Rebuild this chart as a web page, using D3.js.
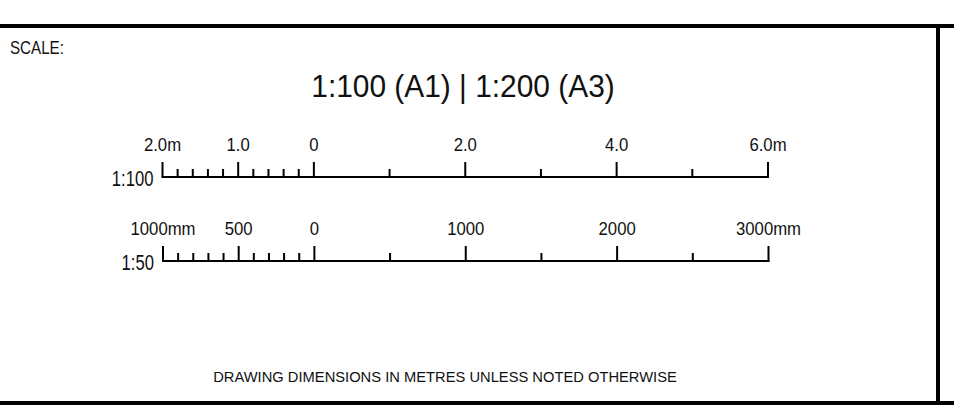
<!DOCTYPE html>
<html>
<head>
<meta charset="utf-8">
<script src="https://cdn.jsdelivr.net/npm/d3@7"></script>
<style>
  body { margin: 0; background: #fff; }
  svg text { font-family: "Liberation Sans", Arial, sans-serif; fill: #111; }
</style>
</head>
<body>
<div id="chart"></div>
<script>
var W = 954, H = 405;

var headerText = "SCALE:";
var titleText = "1:100 (A1) | 1:200 (A3)";
var footerText = "DRAWING DIMENSIONS IN METRES UNLESS NOTED OTHERWISE";

// bar 1 : metres at 1:100
var ratio100 = "1:100";
var majorM = [-2, -1, 0, 2, 4, 6];
var majorMLabels = ["2.0m", "1.0", "0", "2.0", "4.0", "6.0m"];
var minorM = [-1.8, -1.6, -1.4, -1.2, -0.8, -0.6, -0.4, -0.2, 1, 3, 5];

// bar 2 : millimetres at 1:50
var ratio50 = "1:50";
var majorMM = [-1000, -500, 0, 1000, 2000, 3000];
var majorMMLabels = ["1000mm", "500", "0", "1000", "2000", "3000mm"];
var minorMM = [-900, -800, -700, -600, -400, -300, -200, -100, 500, 1500, 2500];

var svg = d3.select("#chart").append("svg")
    .attr("width", W)
    .attr("height", H);

// narrow text: drawing fonts are condensed, so squeeze horizontally
function narrowText(g, x, y, size, sx, anchor, str) {
  return g.append("text")
      .attr("transform", "translate(" + x + "," + y + ") scale(" + sx + ",1)")
      .attr("font-size", size)
      .attr("text-anchor", anchor)
      .text(str);
}

// frame
svg.append("line").attr("x1", 0).attr("x2", W).attr("y1", 26).attr("y2", 26)
    .attr("stroke", "#000").attr("stroke-width", 4);
svg.append("line").attr("x1", 0).attr("x2", W).attr("y1", 403).attr("y2", 403)
    .attr("stroke", "#000").attr("stroke-width", 4);
svg.append("line").attr("x1", 938).attr("x2", 938).attr("y1", 26).attr("y2", 403)
    .attr("stroke", "#000").attr("stroke-width", 4);

narrowText(svg, 10, 53.5, 18.5, 0.82, "start", headerText);
narrowText(svg, 463, 96.5, 30.5, 0.98, "middle", titleText);
narrowText(svg, 445, 382, 15.5, 0.95, "middle", footerText);

function scaleBar(g, x, major, labels, minor, ratio) {
  var r = x.range();
  g.append("line")
      .attr("x1", r[0] - 1).attr("x2", r[1] + 1)
      .attr("y1", 0).attr("y2", 0)
      .attr("stroke", "#000").attr("stroke-width", 2);
  g.selectAll(".major").data(major).enter().append("line")
      .attr("class", "major")
      .attr("x1", function(d) { return x(d); })
      .attr("x2", function(d) { return x(d); })
      .attr("y1", -15).attr("y2", 0)
      .attr("stroke", "#000").attr("stroke-width", 2);
  g.selectAll(".minor").data(minor).enter().append("line")
      .attr("class", "minor")
      .attr("x1", function(d) { return x(d); })
      .attr("x2", function(d) { return x(d); })
      .attr("y1", -8).attr("y2", 0)
      .attr("stroke", "#000").attr("stroke-width", 2);
  major.forEach(function(d, i) {
    narrowText(g, x(d), -26, 19, 0.88, "middle", labels[i]);
  });
  narrowText(g, r[0] - 9, 8.5, 22.5, 0.74, "end", ratio);
}

var xM = d3.scaleLinear().domain([-2, 6]).range([162.5, 768]);
var xMM = d3.scaleLinear().domain([-1000, 3000]).range([163, 768.5]);

scaleBar(svg.append("g").attr("transform", "translate(0,177)"),
    xM, majorM, majorMLabels, minorM, ratio100);
scaleBar(svg.append("g").attr("transform", "translate(0,261)"),
    xMM, majorMM, majorMMLabels, minorMM, ratio50);
</script>
</body>
</html>
